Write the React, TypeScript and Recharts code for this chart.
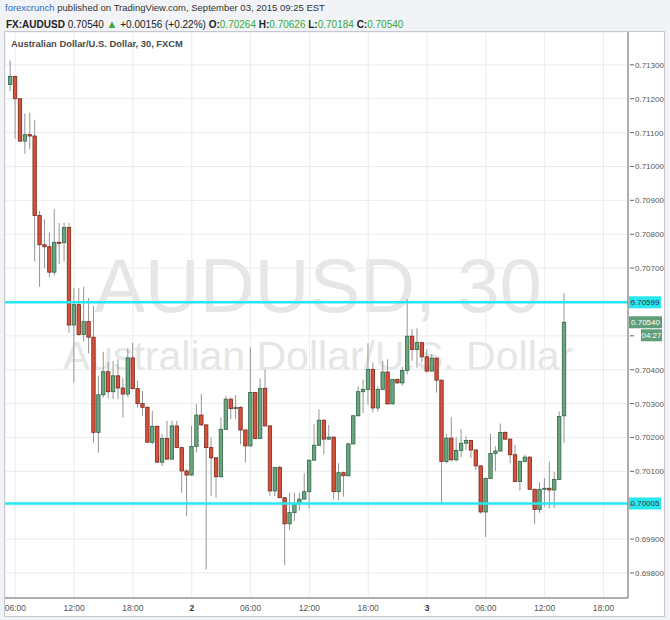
import { Bar, CartesianGrid, ComposedChart, ReferenceLine, XAxis, YAxis } from "recharts";

// AUDUSD 30 min candles, Sep 1 05:30 -> Sep 3 14:00
const opens = [
  0.71242, 0.71266, 0.712, 0.71075, 0.71094, 0.7109, 0.70855, 0.70769, 0.70763, 0.70688,
  0.70776, 0.70775, 0.7082, 0.70532, 0.70592, 0.70504, 0.70542, 0.70496, 0.70215, 0.70326,
  0.70394, 0.70335, 0.70382, 0.70346, 0.70328, 0.70435, 0.70344, 0.703, 0.70289, 0.70186,
  0.70233, 0.70127, 0.70197, 0.70136, 0.70234, 0.7017, 0.70101, 0.70089, 0.70173, 0.70266,
  0.70237, 0.7017, 0.7014, 0.70084, 0.70224, 0.70313, 0.70285, 0.70289, 0.70222, 0.70175,
  0.70333, 0.70197, 0.70345, 0.70234, 0.70042, 0.70111, 0.70022, 0.69945, 0.69978, 0.70005,
  0.70018, 0.7004, 0.70133, 0.70177, 0.70251, 0.70195, 0.70201, 0.7004, 0.70096, 0.70087,
  0.70181, 0.70264, 0.70335, 0.70342, 0.70401, 0.70287, 0.70342, 0.70393, 0.70299, 0.70371,
  0.70361, 0.70398, 0.70499, 0.7046, 0.7048, 0.70438, 0.70396, 0.70434, 0.70369, 0.70129,
  0.70198, 0.70134, 0.70162, 0.70183, 0.70191, 0.70163, 0.70116, 0.6998, 0.70079, 0.70153,
  0.7016, 0.70215, 0.70195, 0.70149, 0.7007, 0.70129, 0.70142, 0.70047, 0.69987, 0.70047,
  0.7005, 0.70045, 0.70076, 0.70264,
];
const highs = [
  0.71313, 0.71268, 0.712, 0.71156, 0.71159, 0.71138, 0.70869, 0.70844, 0.70805, 0.70874,
  0.70833, 0.70834, 0.70834, 0.70641, 0.70641, 0.70645, 0.70612, 0.70588, 0.70382, 0.70453,
  0.70423, 0.70426, 0.70431, 0.70375, 0.70463, 0.7048, 0.70367, 0.70337, 0.70292, 0.70278,
  0.70235, 0.70209, 0.70249, 0.70249, 0.70249, 0.70172, 0.70106, 0.70234, 0.70298, 0.70328,
  0.70239, 0.702, 0.70142, 0.70259, 0.70322, 0.70318, 0.70325, 0.70292, 0.70224, 0.70466,
  0.70335, 0.70374, 0.704, 0.70236, 0.70111, 0.70116, 0.70024, 0.70037, 0.70037, 0.70037,
  0.70094, 0.70133, 0.70239, 0.70283, 0.70253, 0.70237, 0.70203, 0.70124, 0.70099, 0.70185,
  0.70267, 0.7035, 0.70371, 0.70478, 0.70421, 0.70351, 0.70426, 0.70431, 0.70371, 0.70373,
  0.70408, 0.70609, 0.7052, 0.70522, 0.70482, 0.7046, 0.70446, 0.70436, 0.70371, 0.70211,
  0.7026, 0.70201, 0.70225, 0.70203, 0.70193, 0.70165, 0.70118, 0.70082, 0.70211, 0.70174,
  0.70241, 0.70218, 0.70197, 0.70178, 0.70132, 0.70149, 0.70144, 0.70049, 0.70067, 0.7008,
  0.70129, 0.70099, 0.70277, 0.70626,
];
const lows = [
  0.71222, 0.71082, 0.71072, 0.71038, 0.71051, 0.7072, 0.70645, 0.707, 0.70673, 0.70678,
  0.70712, 0.7072, 0.70509, 0.70362, 0.705, 0.70483, 0.70448, 0.70185, 0.70155, 0.70318,
  0.70316, 0.70313, 0.70313, 0.70259, 0.7032, 0.70342, 0.70288, 0.70264, 0.70185, 0.7018,
  0.70126, 0.70116, 0.70134, 0.70134, 0.70168, 0.70037, 0.69968, 0.70087, 0.70155, 0.70235,
  0.6981, 0.70027, 0.70022, 0.70082, 0.70222, 0.70254, 0.70254, 0.7018, 0.70126, 0.70173,
  0.70195, 0.70195, 0.70232, 0.70027, 0.70027, 0.7002, 0.69823, 0.69927, 0.69953, 0.69983,
  0.70016, 0.6999, 0.70131, 0.70175, 0.7015, 0.70193, 0.70017, 0.70015, 0.70025, 0.70085,
  0.70179, 0.70262, 0.70272, 0.70297, 0.70274, 0.70277, 0.7034, 0.70297, 0.70297, 0.70359,
  0.70353, 0.70386, 0.70426, 0.70406, 0.70423, 0.7039, 0.70394, 0.70332, 0.70005, 0.70124,
  0.70129, 0.70129, 0.70141, 0.70163, 0.70139, 0.70104, 0.69975, 0.69906, 0.70077, 0.701,
  0.70158, 0.70193, 0.70124, 0.70068, 0.70043, 0.70127, 0.70045, 0.69944, 0.69977, 0.69995,
  0.6999, 0.69992, 0.70074, 0.70184,
];
const closes = [
  0.71266, 0.712, 0.71075, 0.71094, 0.7109, 0.70855, 0.70769, 0.70763, 0.70688, 0.70776,
  0.70775, 0.7082, 0.70532, 0.70592, 0.70504, 0.70542, 0.70496, 0.70215, 0.70326, 0.70394,
  0.70335, 0.70382, 0.70346, 0.70328, 0.70435, 0.70344, 0.703, 0.70289, 0.70186, 0.70233,
  0.70127, 0.70197, 0.70136, 0.70234, 0.7017, 0.70101, 0.70089, 0.70173, 0.70266, 0.70237,
  0.7017, 0.7014, 0.70084, 0.70224, 0.70313, 0.70285, 0.70289, 0.70222, 0.70175, 0.70333,
  0.70197, 0.70345, 0.70234, 0.70042, 0.70111, 0.70022, 0.69945, 0.69978, 0.70005, 0.70018,
  0.7004, 0.70133, 0.70177, 0.70251, 0.70195, 0.70201, 0.7004, 0.70096, 0.70087, 0.70181,
  0.70264, 0.70335, 0.70342, 0.70401, 0.70287, 0.70342, 0.70393, 0.70299, 0.70371, 0.70361,
  0.70398, 0.70499, 0.7046, 0.7048, 0.70438, 0.70396, 0.70434, 0.70369, 0.70129, 0.70198,
  0.70134, 0.70162, 0.70183, 0.70191, 0.70163, 0.70116, 0.6998, 0.70079, 0.70153, 0.7016,
  0.70215, 0.70195, 0.70149, 0.7007, 0.70129, 0.70142, 0.70047, 0.69987, 0.70047, 0.7005,
  0.70045, 0.70076, 0.70262, 0.7054,
];

const timeTicks = [1, 13, 25, 37, 49, 61, 73, 85, 97, 109, 121];
const timeLabels = ["06:00", "12:00", "18:00", "2", "06:00", "12:00", "18:00", "3", "06:00", "12:00", "18:00"];
const priceTicks = [0.698, 0.699, 0.7, 0.701, 0.702, 0.703, 0.704, 0.705, 0.706, 0.707, 0.708, 0.709, 0.71, 0.711, 0.712, 0.713];
const hiddenTicks = [0.7, 0.705, 0.706];

const resistance = 0.70599;
const support = 0.70005;
const lastPrice = 0.7054;

const data = opens.map((o, i) => ({
  t: i,
  open: o,
  high: highs[i],
  low: lows[i],
  close: closes[i],
  range: [lows[i], highs[i]],
}));

const FONT = "'Liberation Sans', Arial, sans-serif";
const UP = "#6ba680";
const DOWN = "#d6503c";

function Candle(props: any) {
  const { x, y, width, height, payload } = props;
  if (!payload) return null;
  const top0 = Math.min(y, y + height);
  const h = Math.abs(height);
  const { open, close, high, low } = payload;
  const cx = x + width / 2;
  const k = high === low ? 0 : h / (high - low);
  const bTop = top0 + (high - Math.max(open, close)) * k;
  const bBot = top0 + (high - Math.min(open, close)) * k;
  const up = close >= open;
  return (
    <g>
      <line x1={cx} x2={cx} y1={top0} y2={top0 + h} stroke="#959595" strokeWidth={1} />
      <rect
        x={cx - 1.7}
        y={bTop}
        width={3.4}
        height={Math.max(bBot - bTop, 1)}
        fill={up ? UP : DOWN}
        stroke={up ? "#2d6544" : "#7a2619"}
        strokeWidth={0.8}
      />
    </g>
  );
}

function YTick(props: any) {
  const { x, y, payload } = props;
  const v = payload.value;
  const hide = hiddenTicks.some((h) => Math.abs(h - v) < 1e-7);
  return (
    <g>
      <line x1={x - 6} x2={x - 2} y1={y} y2={y} stroke="#666" />
      {!hide && (
        <text x={x - 1} y={y + 3} fontSize={8} fill="#555" fontFamily={FONT}>
          {v.toFixed(5)}
        </text>
      )}
    </g>
  );
}

function XTick(props: any) {
  const { x, y, payload } = props;
  const idx = timeTicks.indexOf(payload.value);
  const label = timeLabels[idx] ?? "";
  const bold = label.length === 1;
  return (
    <text x={x} y={y + 5} textAnchor="middle" fontSize={8.5} fill={bold ? "#333" : "#555"} fontWeight={bold ? 700 : 400} fontFamily={FONT}>
      {label}
    </text>
  );
}

function LineTag(props: any) {
  const { viewBox, text } = props;
  if (!viewBox) return null;
  const left = viewBox.x + viewBox.width + 1;
  const y = viewBox.y;
  return (
    <g>
      <rect x={left} y={y - 6} width={32} height={12} fill="#27e8ef" />
      <text x={left + 16} y={y + 3} textAnchor="middle" fontSize={8} fill="#333" fontFamily={FONT}>
        {text}
      </text>
    </g>
  );
}

function LastTag(props: any) {
  const { viewBox, text, timer } = props;
  if (!viewBox) return null;
  const left = viewBox.x + viewBox.width + 1;
  const y = viewBox.y;
  return (
    <g>
      <rect x={left} y={y - 6} width={33} height={12} fill="#5f9e78" />
      <text x={left + 16.5} y={y + 3} textAnchor="middle" fontSize={8} fill="#fff" fontFamily={FONT}>
        {text}
      </text>
      <rect x={left + 12} y={y + 7} width={21} height={12} fill="#5f9e78" />
      <text x={left + 22.5} y={y + 16} textAnchor="middle" fontSize={8} fill="#fff" fontFamily={FONT}>
        {timer}
      </text>
    </g>
  );
}

const G = "#3aa83a";

export default function App() {
  return (
    <div style={{ position: "fixed", left: 0, top: 0, width: 670, height: 620, background: "#f1f3f6", fontFamily: FONT, overflow: "hidden" }}>
      <div style={{ position: "absolute", left: 5, top: 2, fontSize: 9.5, lineHeight: "12px", color: "#333", whiteSpace: "nowrap" }}>
        <span style={{ color: "#2b6cc4" }}>forexcrunch</span> published on TradingView.com, September 03, 2015 09:25 EST
      </div>
      <div style={{ position: "absolute", left: 6, top: 18, fontSize: 10, lineHeight: "12px", color: "#222", whiteSpace: "nowrap" }}>
        <b>FX:AUDUSD</b> 0.70540 <span style={{ color: G, fontSize: 11 }}>▲</span> +0.00156 (+0.22%) <b>O:</b>
        <span style={{ color: G }}>0.70264</span> <b>H:</b>
        <span style={{ color: G }}>0.70626</span> <b>L:</b>
        <span style={{ color: G }}>0.70184</span> <b>C:</b>
        <span style={{ color: G }}>0.70540</span>
      </div>
      <div
        style={{
          position: "absolute",
          left: 4,
          top: 31,
          width: 661,
          height: 586,
          boxSizing: "border-box",
          border: "1px solid #c5c8ce",
          background: "#fff",
        }}
      >
        <svg width={659} height={584} style={{ position: "absolute", left: 0, top: 0 }}>
          <text x={313} y={280} textAnchor="middle" fontSize={76} fill="#e6e6e6" fontFamily={FONT}>
            AUDUSD, 30
          </text>
          <text x={313} y={338} textAnchor="middle" fontSize={41} fill="#e6e6e6" fontFamily={FONT}>
            Australian Dollar/U.S. Dollar
          </text>
        </svg>
        <div style={{ position: "absolute", left: 0, top: 0 }}>
          <ComposedChart width={659} height={584} data={data} margin={{ top: 0, right: 0, bottom: 0, left: 0 }}>
            <CartesianGrid stroke="#ececec" vertical horizontal />
            <XAxis
              type="number"
              dataKey="t"
              domain={[-1.1, 126]}
              allowDataOverflow
              ticks={timeTicks}
              interval={0}
              height={18}
              tickLine={false}
              tick={<XTick />}
              axisLine={{ stroke: "#666" }}
            />
            <YAxis
              orientation="right"
              domain={[0.69726, 0.71397]}
              allowDataOverflow
              ticks={priceTicks}
              interval={0}
              width={36}
              tickLine={false}
              tick={<YTick />}
              axisLine={{ stroke: "#666" }}
            />
            <Bar dataKey="range" barSize={5} isAnimationActive={false} shape={(p: any) => <Candle {...p} />} />
            <ReferenceLine y={resistance} stroke="#27e8ef" strokeWidth={2.5} label={<LineTag text={resistance.toFixed(5)} />} />
            <ReferenceLine y={support} stroke="#27e8ef" strokeWidth={2.5} label={<LineTag text={support.toFixed(5)} />} />
            <ReferenceLine y={lastPrice} stroke="none" label={<LastTag text={lastPrice.toFixed(5)} timer="04:27" />} />
          </ComposedChart>
        </div>
        <div style={{ position: "absolute", left: 6, top: 6, fontSize: 9.4, lineHeight: "12px", color: "#4a4a4a", fontWeight: 700, whiteSpace: "nowrap" }}>
          Australian Dollar/U.S. Dollar, 30, FXCM
        </div>
      </div>
    </div>
  );
}
